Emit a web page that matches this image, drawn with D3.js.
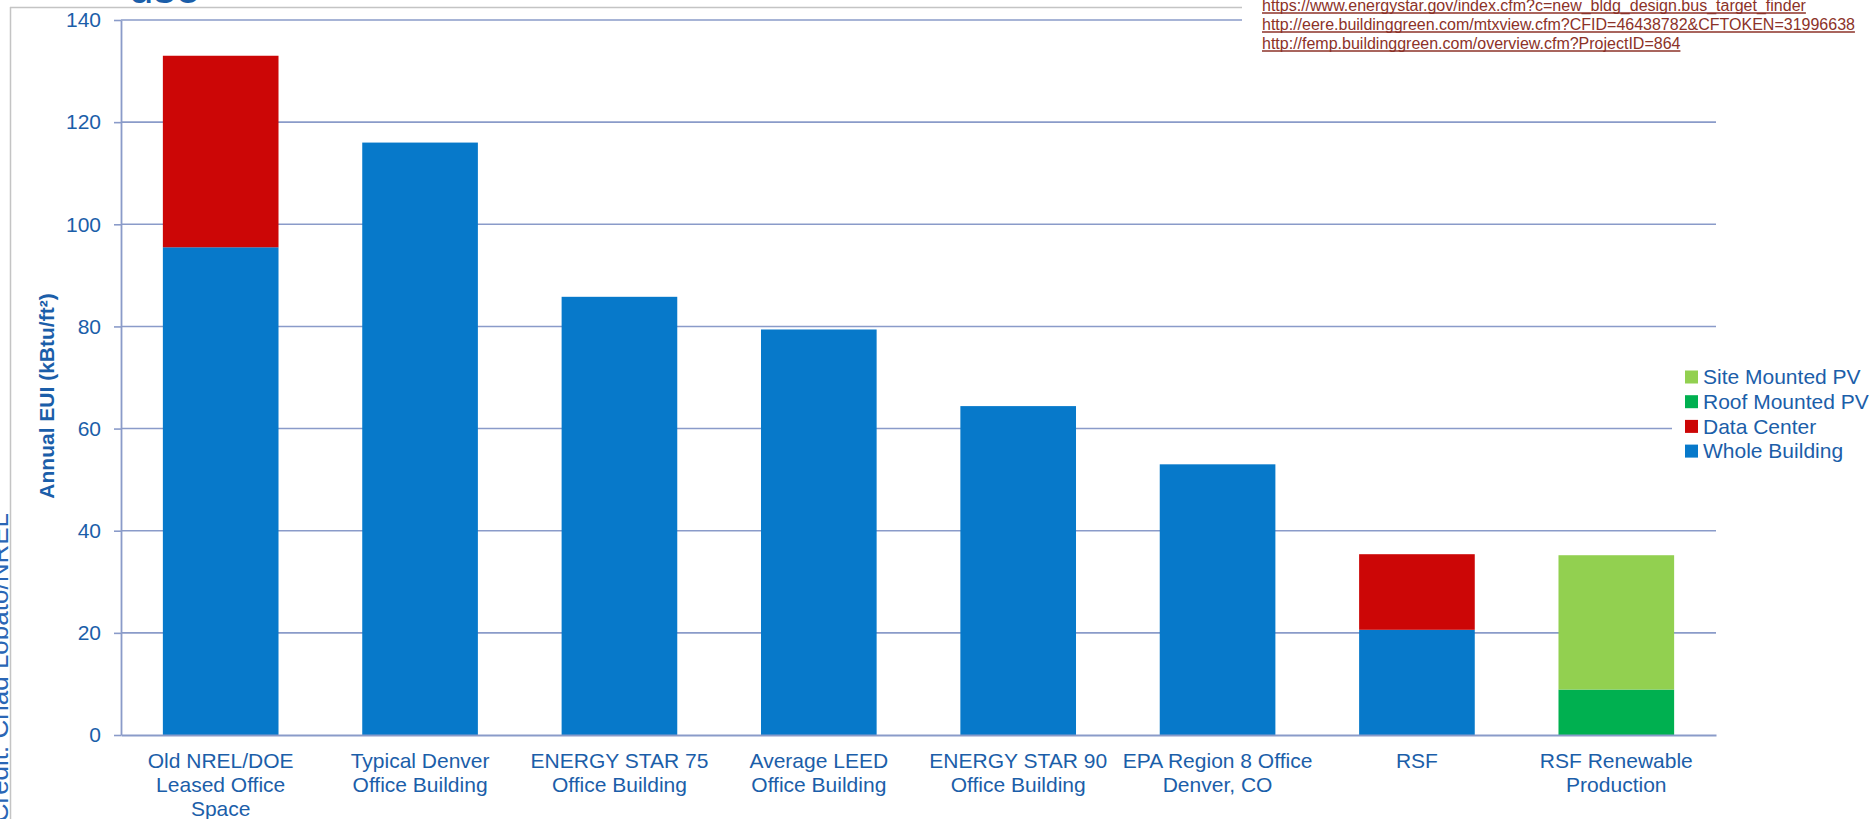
<!DOCTYPE html>
<html>
<head>
<meta charset="utf-8">
<script src="https://cdn.jsdelivr.net/npm/d3@7"></script>
<style>
  html, body { margin: 0; padding: 0; background: #ffffff; }
  svg { display: block; }
  text { font-family: "Liberation Sans", Arial, sans-serif; }
</style>
</head>
<body>
<svg id="chart" width="1870" height="819"></svg>
<script>
// ---- data ----
const categories = [
  "Old NREL/DOE\nLeased Office\nSpace",
  "Typical Denver\nOffice Building",
  "ENERGY STAR 75\nOffice Building",
  "Average LEED\nOffice Building",
  "ENERGY STAR 90\nOffice Building",
  "EPA Region 8 Office\nDenver, CO",
  "RSF",
  "RSF Renewable\nProduction"
];
const seriesNames = ["Whole Building", "Data Center", "Roof Mounted PV", "Site Mounted PV"];
const wholeBuilding = [95.5, 116.0, 85.8, 79.4, 64.4, 53.0, 20.6, 0];
const dataCenter    = [37.5, 0, 0, 0, 0, 0, 14.8, 0];
const roofPV        = [0, 0, 0, 0, 0, 0, 0, 8.9];
const sitePV        = [0, 0, 0, 0, 0, 0, 0, 26.3];
const yTicks = [0, 20, 40, 60, 80, 100, 120, 140];
const yTitle = "Annual EUI (kBtu/ft²)";
const legendOrder = ["Site Mounted PV", "Roof Mounted PV", "Data Center", "Whole Building"];
const links = [
  "https://www.energystar.gov/index.cfm?c=new_bldg_design.bus_target_finder",
  "http://eere.buildinggreen.com/mtxview.cfm?CFID=46438782&CFTOKEN=31996638",
  "http://femp.buildinggreen.com/overview.cfm?ProjectID=864"
];
const credit = "Credit: Chad Lobato/NREL";
const titleFragment = "use";

// ---- styles ----
const colors = {
  "Whole Building": "#0779CA",
  "Data Center": "#CC0606",
  "Roof Mounted PV": "#00B050",
  "Site Mounted PV": "#92D050"
};
const textBlue = "#1B5EA9";
const gridColor = "#8A9BC9";

// ---- build table ----
const table = categories.map((c, i) => ({
  cat: c,
  "Whole Building": wholeBuilding[i],
  "Data Center": dataCenter[i],
  "Roof Mounted PV": roofPV[i],
  "Site Mounted PV": sitePV[i]
}));

const svg = d3.select("#chart");
const plotL = 121, plotR = 1716, plotT = 20, plotB = 735;

const x = d3.scaleBand().domain(categories).range([plotL, plotR])
  .paddingInner(0.42).paddingOuter(0.21);
const y = d3.scaleLinear().domain([0, 140]).range([plotB, plotT]);

// outer gray frame
svg.append("line").attr("x1", 10).attr("x2", 1870).attr("y1", 7.5).attr("y2", 7.5)
  .attr("stroke", "#C4C4C4").attr("stroke-width", 1.5);
svg.append("line").attr("x1", 10.5).attr("x2", 10.5).attr("y1", 7).attr("y2", 819)
  .attr("stroke", "#C4C4C4").attr("stroke-width", 1.5);

// title fragment (cut off at top)
svg.append("text").attr("x", 129).attr("y", 3)
  .attr("font-size", 44).attr("fill", textBlue).text(titleFragment);

// gridlines
svg.append("g").selectAll("line").data(yTicks.filter(d => d > 0)).join("line")
  .attr("x1", plotL).attr("x2", plotR)
  .attr("y1", d => y(d)).attr("y2", d => y(d))
  .attr("stroke", gridColor).attr("stroke-width", 1.6);

// bars
const stack = d3.stack().keys(seriesNames)(table);
svg.append("g").selectAll("g").data(stack).join("g")
  .attr("fill", d => colors[d.key])
  .selectAll("rect").data(d => d.filter(s => s[1] - s[0] > 0)).join("rect")
  .attr("x", d => x(d.data.cat))
  .attr("width", x.bandwidth())
  .attr("y", d => y(d[1]))
  .attr("height", d => y(d[0]) - y(d[1]));

// y axis
const yAxis = d3.axisLeft(y).tickValues(yTicks).tickSize(7).tickPadding(13).tickSizeOuter(0);
const gy = svg.append("g").attr("transform", `translate(${plotL},0)`).call(yAxis);
gy.select(".domain").attr("stroke", gridColor).attr("stroke-width", 1.8);
gy.selectAll(".tick line").attr("stroke", gridColor).attr("stroke-width", 1.6);
gy.selectAll(".tick text").attr("fill", textBlue).attr("font-size", 21)
  .attr("font-family", "Liberation Sans, Arial, sans-serif");

// x axis
const xAxis = d3.axisBottom(x).tickSize(0).tickSizeOuter(0).tickFormat("");
const gx = svg.append("g").attr("transform", `translate(0,${plotB})`).call(xAxis);
gx.select(".domain").attr("stroke", gridColor).attr("stroke-width", 1.8);
gx.selectAll(".tick").each(function(d) {
  const lines = d.split("\n");
  const t = d3.select(this).append("text")
    .attr("text-anchor", "middle").attr("fill", textBlue).attr("font-size", 21)
    .attr("font-family", "Liberation Sans, Arial, sans-serif");
  lines.forEach((ln, i) => {
    t.append("tspan").attr("x", 0).attr("y", 33 + i * 24.2).text(ln);
  });
});

// y title
svg.append("text").attr("transform", "translate(54,396) rotate(-90)")
  .attr("text-anchor", "middle").attr("font-size", 21).attr("font-weight", "bold")
  .attr("fill", textBlue).text(yTitle);

// credit
svg.append("text").attr("transform", "translate(8,513) rotate(-90)")
  .attr("text-anchor", "end").attr("font-size", 26).attr("fill", "#2A66B5").text(credit);

// link box
svg.append("rect").attr("x", 1242).attr("y", 0).attr("width", 628).attr("height", 58).attr("fill", "#fff");
const lg = svg.append("g");
links.forEach((l, i) => {
  const by = 10.5 + i * 19;
  const t = lg.append("text").attr("x", 1262).attr("y", by)
    .attr("font-size", 16).attr("fill", "#8C3228").text(l);
  const w = t.node().getComputedTextLength();
  lg.append("line").attr("x1", 1262).attr("x2", 1262 + w)
    .attr("y1", by + 2.5).attr("y2", by + 2.5)
    .attr("stroke", "#8C3228").attr("stroke-width", 1.6);
});

// legend
svg.append("rect").attr("x", 1672).attr("y", 364).attr("width", 198).attr("height", 100).attr("fill", "#fff");
const leg = svg.append("g").selectAll("g").data(legendOrder).join("g")
  .attr("transform", (d, i) => `translate(1685,${377 + i * 24.7})`);
leg.append("rect").attr("x", 0).attr("y", -6.5).attr("width", 13).attr("height", 13)
  .attr("fill", d => colors[d]);
leg.append("text").attr("x", 18).attr("y", 0).attr("dy", "0.35em")
  .attr("font-size", 21).attr("fill", textBlue).text(d => d);
</script>
</body>
</html>
